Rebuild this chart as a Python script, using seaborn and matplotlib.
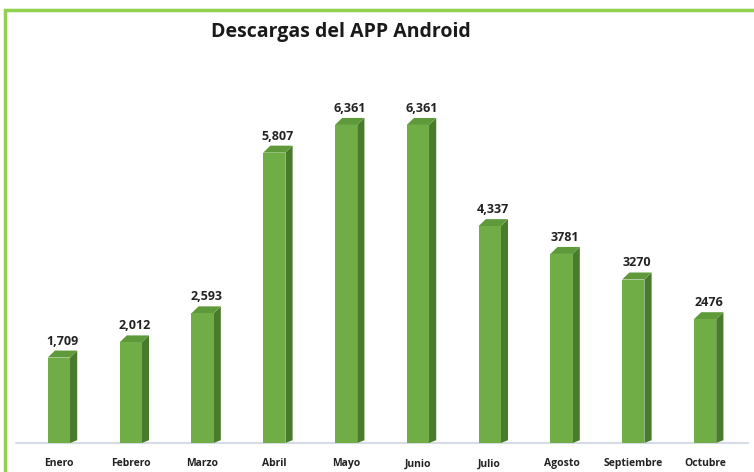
import matplotlib
matplotlib.use("Agg")
import matplotlib.pyplot as plt
import matplotlib.patches as mpatches
import seaborn as sns
import pandas as pd

months = ["Enero", "Febrero", "Marzo", "Abril", "Mayo", "Junio",
          "Julio", "Agosto", "Septiembre", "Octubre"]
downloads = [1709, 2012, 2593, 5807, 6361, 6361, 4337, 3781, 3270, 2476]
value_labels = ["1,709", "2,012", "2,593", "5,807", "6,361", "6,361",
                "4,337", "3781", "3270", "2476"]
title = "Descargas del APP Android"

sns.set_theme(style="white")
FONT = ["Open Sans", "DejaVu Sans"]
plt.rcParams["font.family"] = FONT

front = "#70AD47"
side = "#4A7A2C"
topc = "#5F9A3A"

df = pd.DataFrame({"mes": months, "descargas": downloads})

fig = plt.figure(figsize=(7.54, 4.72), dpi=100)
ax = fig.add_axes([23 / 754, 29 / 472, 718 / 754, 383 / 472])
sns.barplot(data=df, x="mes", y="descargas", color=front, width=0.31,
            saturation=1, ax=ax, zorder=3, linewidth=0, edgecolor=front)

ymax = 7660
ax.set_ylim(0, ymax)
ax.set_xlim(-0.5, len(months) - 0.5)

# pseudo-3D side and top faces derived from each bar
dx = 0.10
dy = 140
for p in ax.patches:
    x0 = p.get_x()
    w = p.get_width()
    h = p.get_height()
    x1 = x0 + w
    ax.fill([x1, x1 + dx, x1 + dx, x1], [0, dy * 0.4, h + dy, h],
            color=side, zorder=2, lw=0)
    ax.fill([x0, x1, x1 + dx, x0 + dx], [h, h, h + dy, h + dy],
            color=topc, zorder=2, lw=0)

for p, lab in zip(ax.patches, value_labels):
    ax.text(p.get_x() + p.get_width() / 2 + dx / 2, p.get_height() + dy + 60,
            lab, ha="center", va="bottom", fontsize=9, fontweight="bold",
            color="#222222", family=FONT)

ax.axhline(0, color="#D6DCE5", lw=1.5, zorder=1, xmin=-0.01, xmax=1.01,
           clip_on=False)

ax.set_xlabel("")
ax.set_ylabel("")
ax.set_yticks([])
ax.tick_params(axis="x", length=0, pad=11)
for t in ax.get_xticklabels():
    t.set_fontsize(7.5)
    t.set_fontweight("bold")
    t.set_color("#222222")
for s in ax.spines.values():
    s.set_visible(False)

fig.text(341 / 754, 1 - 32 / 472, title, ha="center", va="center",
         fontsize=14, fontweight="bold", color="#1a1a1a", family=FONT)

border = mpatches.Rectangle((5 / 754, -0.1), 1.2, 1 - 10 / 472 + 0.1,
                            transform=fig.transFigure, fill=False,
                            edgecolor="#92D050", lw=2.5, clip_on=False)
fig.add_artist(border)

fig.savefig("out.png", dpi=100, facecolor="white")
